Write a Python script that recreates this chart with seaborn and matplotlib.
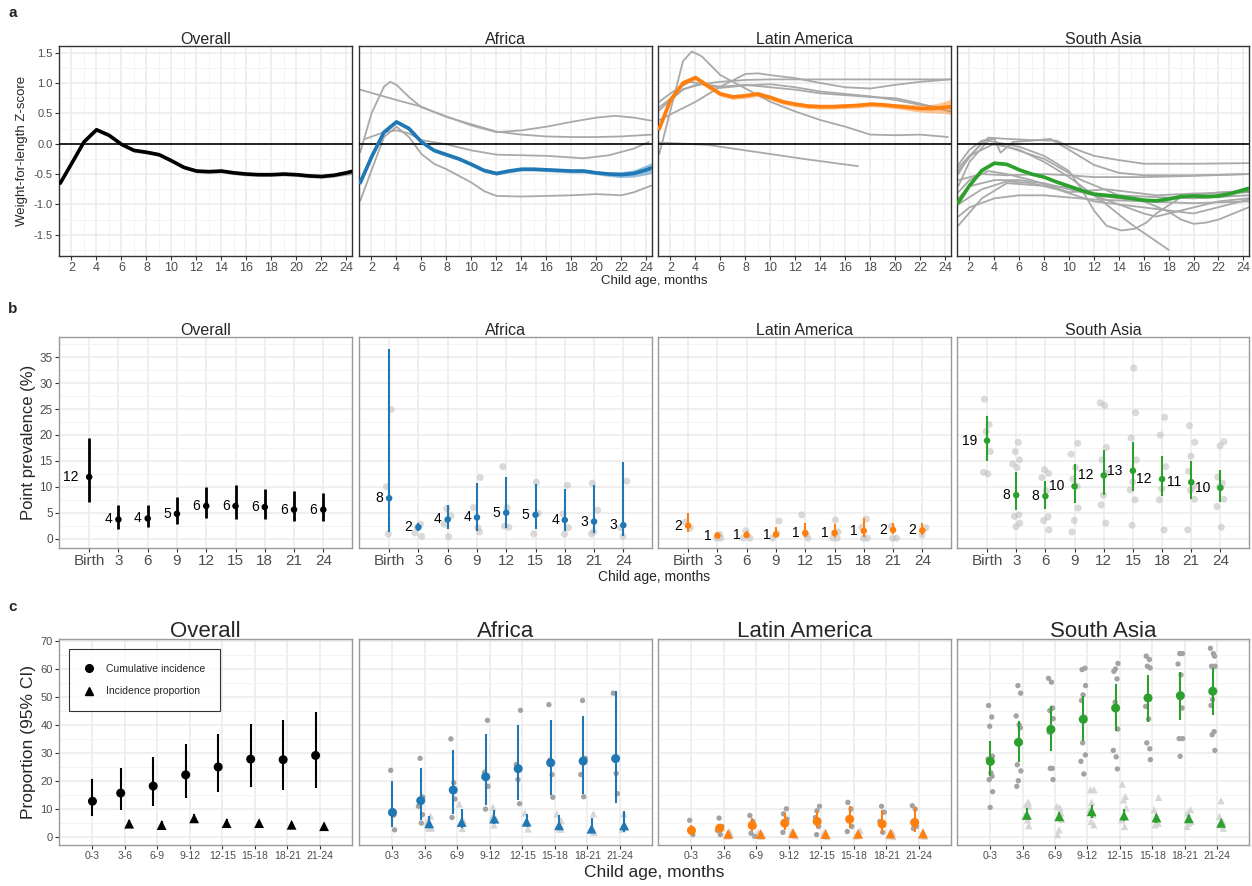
import matplotlib
matplotlib.use("Agg")
import matplotlib.pyplot as plt
import numpy as np
import pandas as pd
import seaborn as sns
from matplotlib.lines import Line2D
from matplotlib.ticker import MultipleLocator, FormatStrFormatter

# ---------------------------------------------------------------- data
REGIONS = ["Overall", "Africa", "Latin America", "South Asia"]
REGION_COLORS = ["#000000", "#1F77B4", "#FF7F0E", "#2CA02C"]

# panel a: pooled WLZ curves by age (months)
age_main = [1.1, 2, 3, 4, 5, 6, 7, 8, 9, 10, 11, 12, 13, 14, 15, 16, 17, 18,
            19, 20, 21, 22, 23, 24, 24.4]
wlz_overall = [-0.65, -0.33, 0.03, 0.23, 0.14, -0.01, -0.11, -0.14, -0.18, -0.28,
               -0.39, -0.45, -0.46, -0.45, -0.48, -0.50, -0.51, -0.51, -0.50,
               -0.51, -0.53, -0.54, -0.52, -0.48, -0.46]
wlz_africa = [-0.64, -0.22, 0.19, 0.36, 0.25, 0.03, -0.11, -0.18, -0.25, -0.34,
              -0.44, -0.49, -0.45, -0.42, -0.42, -0.43, -0.44, -0.45, -0.45,
              -0.48, -0.50, -0.51, -0.49, -0.43, -0.40]
wlz_latam = [0.25, 0.72, 1.00, 1.09, 0.95, 0.82, 0.77, 0.79, 0.82, 0.76, 0.69,
             0.65, 0.62, 0.61, 0.61, 0.62, 0.63, 0.65, 0.64, 0.62, 0.60, 0.58,
             0.58, 0.60, 0.61]
wlz_sasia = [-0.97, -0.69, -0.44, -0.32, -0.34, -0.43, -0.50, -0.55, -0.63, -0.70,
             -0.77, -0.83, -0.85, -0.87, -0.90, -0.93, -0.94, -0.91, -0.87,
             -0.86, -0.87, -0.86, -0.82, -0.76, -0.74]
# half-width of the confidence ribbon
hw_overall = [0.03] * 22 + [0.03, 0.04, 0.05]
hw_africa = [0.05, 0.04] + [0.03] * 18 + [0.04, 0.05, 0.06, 0.08, 0.09]
hw_latam = [0.06, 0.05] + [0.04] * 18 + [0.05, 0.06, 0.07, 0.10, 0.13]
hw_sasia = [0.04, 0.03] + [0.025] * 19 + [0.03, 0.03, 0.04, 0.05]

# study-level curves (ages, values)
africa_studies = [
    ([1.1, 4, 6, 8, 10, 12, 14, 16, 18, 20, 22, 24.4],
     [0.89, 0.72, 0.61, 0.44, 0.32, 0.20, 0.15, 0.12, 0.11, 0.11, 0.12, 0.15]),
    ([1.1, 2, 3, 3.5, 4, 5, 6, 8, 10, 12, 14, 16, 18, 20, 21.5, 23, 24.4],
     [-0.14, 0.50, 0.94, 1.02, 0.97, 0.77, 0.60, 0.45, 0.30, 0.19, 0.22, 0.28,
      0.36, 0.43, 0.46, 0.43, 0.38]),
    ([1.5, 3, 4, 5, 6, 8, 10, 12, 16, 19, 21, 23, 24.2],
     [0.08, 0.19, 0.22, 0.17, 0.06, -0.01, -0.11, -0.18, -0.20, -0.24, -0.19,
      -0.08, 0.03]),
    ([1.1, 2, 3, 4, 5, 6, 7, 8, 10, 11, 12, 14, 16, 18, 20, 22, 23, 24.4],
     [-0.94, -0.44, 0.11, 0.28, 0.11, -0.17, -0.33, -0.42, -0.64, -0.78, -0.86,
      -0.87, -0.86, -0.85, -0.83, -0.85, -0.80, -0.69]),
]
latam_studies = [
    ([1.1, 2, 3, 3.7, 4.5, 6, 8, 10, 12, 14, 16, 18, 20, 22, 24.2],
     [-0.17, 0.55, 1.36, 1.52, 1.44, 1.13, 0.91, 0.69, 0.53, 0.39, 0.28, 0.15,
      0.14, 0.15, 0.11]),
    ([1.1, 5, 9, 13, 17], [0.02, -0.02, -0.14, -0.26, -0.37]),
    ([1.1, 2, 3, 4, 6, 8, 10, 12, 16, 20, 24.4],
     [0.55, 0.72, 0.89, 0.97, 1.02, 1.05, 1.06, 1.06, 1.06, 1.06, 1.06]),
    ([1.1, 4, 6, 8, 9, 10, 12, 14, 16, 18, 20, 22, 24.4],
     [0.39, 0.69, 0.94, 1.15, 1.16, 1.13, 1.08, 1.00, 0.93, 0.91, 0.97, 1.02, 1.06]),
    ([1.1, 2, 3.5, 5, 6, 8, 10, 12, 14, 16, 18, 20, 22, 24.4],
     [0.69, 0.83, 1.02, 0.97, 0.94, 0.97, 0.93, 0.89, 0.83, 0.80, 0.77, 0.75,
      0.66, 0.53]),
    ([1.1, 3, 4.5, 6, 8, 10, 12, 14, 16, 18, 20, 22, 24.4],
     [0.60, 0.90, 0.98, 0.92, 0.96, 0.98, 0.93, 0.86, 0.82, 0.78, 0.72, 0.64, 0.58]),
]
sasia_studies = [
    ([1.1, 2, 3.5, 5, 7, 9, 10, 12, 14, 16, 20, 24.4],
     [-0.40, -0.20, 0.10, 0.08, 0.06, 0.05, -0.05, -0.20, -0.27, -0.33, -0.33, -0.32]),
    ([1.1, 2, 3, 4, 4.5, 5.5, 7, 8.5, 10, 12, 14, 16, 20, 24.4],
     [-0.35, -0.10, 0.05, 0.08, -0.15, 0.03, 0.05, 0.08, -0.10, -0.35, -0.48,
      -0.52, -0.52, -0.50]),
    ([1.1, 2, 3.5, 6, 8, 10, 11, 12, 13, 14.2, 15.3, 16.2, 17, 19, 22, 24.4],
     [-0.70, -0.30, 0.05, -0.05, -0.20, -0.45, -0.75, -1.10, -1.35, -1.43, -1.40,
      -1.30, -1.15, -0.88, -0.80, -0.78]),
    ([1.1, 2, 4, 6, 8, 10, 11, 13, 14.5, 15.5, 16.8, 18],
     [-0.50, -0.20, 0.00, -0.10, -0.30, -0.55, -0.70, -1.00, -1.25, -1.40, -1.58, -1.75]),
    ([1.1, 3, 5, 7, 10, 12, 14, 16, 17, 19, 22, 24.4],
     [-1.35, -0.90, -0.65, -0.68, -0.72, -0.85, -1.00, -1.15, -1.20, -1.10,
      -0.95, -0.90]),
    ([1.1, 2, 4, 6, 8, 12, 16, 20, 24.4],
     [-1.20, -1.05, -0.90, -0.85, -0.85, -0.92, -0.95, -0.98, -0.95]),
    ([1.1, 3, 5, 8, 10, 12, 16, 20, 24.4],
     [-0.60, -0.50, -0.52, -0.50, -0.52, -0.55, -0.55, -0.53, -0.50]),
    ([1.1, 2, 4, 6, 8, 10, 12, 14, 16, 18, 19, 20, 21, 22, 24.4],
     [-0.90, -0.70, -0.60, -0.60, -0.65, -0.75, -0.85, -0.90, -0.95, -1.12,
      -1.25, -1.32, -1.30, -1.25, -1.05]),
    ([1.1, 3, 5, 7, 9, 12, 16, 20, 24.4],
     [-1.00, -0.75, -0.62, -0.65, -0.75, -0.95, -1.05, -1.15, -0.92]),
    ([1.1, 2, 3.5, 5, 7, 10, 13, 15, 17, 20, 24.4],
     [-0.80, -0.60, -0.45, -0.50, -0.60, -0.80, -0.75, -0.80, -0.85, -0.82, -0.80]),
    ([1.1, 3, 5, 8, 11, 14, 17, 20, 24.4],
     [-0.45, 0.02, -0.05, -0.25, -0.60, -0.85, -0.88, -0.90, -0.85]),
]

# panel b: point prevalence (%)
prev_ages = ["Birth", "3", "6", "9", "12", "15", "18", "21", "24"]
prev_est = {
    "Overall": [11.9, 3.7, 3.9, 4.8, 6.3, 6.3, 6.1, 5.6, 5.6],
    "Africa": [7.8, 2.2, 3.7, 4.1, 5.0, 4.6, 3.6, 3.3, 2.6],
    "Latin America": [2.5, 0.6, 0.7, 0.8, 1.1, 1.1, 1.5, 1.7, 1.6],
    "South Asia": [18.9, 8.4, 8.2, 10.1, 12.2, 13.1, 11.5, 10.9, 9.8],
}
prev_lo = {
    "Overall": [7.0, 1.9, 2.3, 2.9, 3.9, 3.7, 3.7, 3.4, 3.5],
    "Africa": [1.2, 1.5, 1.8, 1.5, 2.0, 1.8, 1.5, 1.0, 0.5],
    "Latin America": [1.3, 0.2, 0.2, 0.3, 0.3, 0.3, 0.4, 0.9, 0.7],
    "South Asia": [14.9, 5.5, 5.8, 6.9, 8.5, 9.1, 8.3, 7.7, 7.1],
}
prev_hi = {
    "Overall": [19.5, 6.4, 6.4, 8.1, 10.0, 10.3, 9.6, 9.1, 8.9],
    "Africa": [36.6, 3.0, 6.4, 10.8, 11.8, 10.6, 9.6, 10.3, 14.7],
    "Latin America": [4.9, 1.2, 1.5, 2.2, 3.0, 2.9, 3.9, 3.0, 3.0],
    "South Asia": [23.7, 12.8, 11.2, 14.4, 17.1, 18.6, 16.0, 15.0, 13.2],
}
prev_labels = {
    "Overall": [12, 4, 4, 5, 6, 6, 6, 6, 6],
    "Africa": [8, 2, 4, 4, 5, 5, 4, 3, 3],
    "Latin America": [2, 1, 1, 1, 1, 1, 1, 2, 2],
    "South Asia": [19, 8, 8, 10, 12, 13, 12, 11, 10],
}
prev_study = {
    "Overall": [[] for _ in prev_ages],
    "Africa": [[10.0, 24.9, 0.9], [2.8, 2.2, 0.45, 1.1], [5.8, 4.4, 2.8, 0.4],
               [11.8, 6.0, 2.1, 1.3], [13.9, 6.0, 2.2, 2.4], [10.9, 4.9, 0.9],
               [10.3, 4.75, 2.1, 0.9], [10.7, 5.5, 1.3, 0.9], [11.1, 0.45, 2.1]],
    "Latin America": [[3.2, 2.05], [0.8, 0.1, 0.1], [1.5, 0.1, 0.1], [3.4, 0.1, 1.0],
                      [4.6, 0.8, 0.1], [3.6, 0.1, 0.1, 1.3], [3.8, 2.2, 0.1, 0.1],
                      [2.4, 0.1, 0.1], [2.1, 0.7]],
    "South Asia": [[26.9, 22.0, 20.7, 16.8, 12.8, 12.5],
                   [18.6, 16.8, 15.2, 14.4, 13.7, 4.6, 4.3, 3.0, 2.3],
                   [13.3, 12.6, 11.8, 9.2, 4.2, 3.5, 1.7],
                   [18.4, 16.3, 13.7, 10.1, 11.5, 5.9, 3.5, 1.3],
                   [26.2, 25.7, 17.6, 15.2, 12.7, 8.4, 6.5, 3.0],
                   [32.9, 24.3, 19.4, 15.2, 10.9, 9.4, 7.5, 2.6],
                   [23.4, 20.0, 13.9, 9.6, 7.5, 1.7],
                   [21.8, 18.6, 15.9, 13.0, 10.0, 9.3, 7.6, 1.7],
                   [18.7, 17.9, 11.9, 10.7, 10.0, 7.6, 6.2, 2.2]],
}

# panel c: cumulative incidence (all bins) and incidence proportion (from 3-6)
inc_bins = ["0-3", "3-6", "6-9", "9-12", "12-15", "15-18", "18-21", "21-24"]
ci_est = {
    "Overall": [12.9, 15.8, 18.3, 22.3, 25.1, 27.9, 27.7, 29.2],
    "Africa": [8.9, 13.1, 16.9, 21.6, 24.5, 26.6, 27.2, 28.1],
    "Latin America": [2.5, 3.3, 4.3, 5.1, 5.7, 6.5, 4.8, 5.35],
    "South Asia": [27.1, 33.9, 38.5, 42.1, 46.1, 49.7, 50.5, 52.1],
}
ci_lo = {
    "Overall": [7.5, 9.6, 11.3, 14.1, 16.1, 18.1, 16.9, 17.5],
    "Africa": [3.7, 6.3, 8.4, 11.5, 13.4, 15.2, 15.6, 12.2],
    "Latin America": [1.4, 2.1, 2.4, 2.6, 3.3, 3.5, 1.6, 1.8],
    "South Asia": [22.0, 26.9, 30.7, 34.5, 37.8, 41.3, 41.9, 43.6],
}
ci_hi = {
    "Overall": [20.8, 24.9, 28.7, 33.3, 37.0, 40.5, 42.0, 44.6],
    "Africa": [20.2, 24.8, 31.2, 36.7, 40.2, 42.0, 43.2, 52.1],
    "Latin America": [4.6, 4.9, 6.8, 8.8, 9.5, 11.1, 9.6, 10.8],
    "South Asia": [34.5, 41.4, 46.7, 50.3, 54.7, 58.0, 59.0, 60.5],
}
ip_est = {
    "Overall": [4.9, 4.4, 6.8, 5.1, 5.1, 4.5, 4.0],
    "Africa": [5.0, 5.5, 6.7, 5.6, 4.3, 3.1, 4.3],
    "Latin America": [1.3, 1.2, 1.5, 1.2, 1.3, 1.4, 1.4],
    "South Asia": [8.0, 7.5, 9.3, 7.8, 7.1, 6.8, 5.2],
}
ip_lo = {
    "Overall": [3.9, 3.2, 5.6, 4.0, 4.2, 3.5, 3.4],
    "Africa": [3.2, 3.3, 4.9, 3.7, 3.0, 1.5, 1.9],
    "Latin America": [0.8, 0.7, 0.9, 0.7, 0.8, 0.8, 0.8],
    "South Asia": [6.9, 6.0, 7.0, 5.8, 5.0, 5.2, 4.3],
}
ip_hi = {
    "Overall": [6.2, 5.8, 8.2, 6.6, 6.0, 5.6, 4.7],
    "Africa": [7.8, 10.2, 9.6, 8.2, 7.9, 7.0, 9.3],
    "Latin America": [1.9, 1.8, 2.2, 1.8, 1.9, 2.1, 2.1],
    "South Asia": [10.5, 9.0, 11.5, 10.3, 8.4, 7.9, 5.9],
}
ci_study = {
    "Overall": [[] for _ in inc_bins],
    "Africa": [[23.9, 8.0, 9.3, 2.7], [28.2, 14.4, 11.1, 5.1, 8.1],
               [35.1, 19.5, 13.7, 7.1], [41.7, 23.2, 18.2, 10.1],
               [45.3, 20.6, 26.0, 12.0], [47.3, 22.4, 27.6, 14.3],
               [48.8, 28.2, 22.4, 14.5], [51.4, 22.8, 15.6]],
    "Latin America": [[6.1, 1.0, 2.5], [6.9, 3.9, 2.5, 1.0], [7.8, 5.7, 3.9, 1.5, 0.4],
                      [10.2, 8.4, 6.5, 4.5, 1.8], [11.1, 9.5, 7.1, 3.9, 1.0],
                      [12.5, 10.1, 6.3, 3.9, 2.1], [11.1, 9.0, 5.7, 1.8],
                      [11.3, 10.1, 3.9, 3.2]],
    "South Asia": [[47.0, 42.9, 39.6, 28.9, 27.9, 23.0, 21.8, 20.6, 16.3, 10.7],
                   [54.1, 51.4, 43.3, 40.1, 39.1, 25.9, 23.7, 20.2, 18.2],
                   [56.7, 55.3, 46.1, 45.2, 42.3, 37.5, 37.5, 24.6, 24.6, 20.6],
                   [60.3, 59.8, 54.1, 50.8, 48.8, 42.8, 33.7, 29.4, 27.1, 22.6],
                   [62.0, 60.0, 59.2, 56.5, 48.2, 38.6, 31.0, 28.7, 24.4],
                   [64.6, 63.4, 61.0, 60.4, 46.7, 42.2, 31.6, 33.7, 27.7],
                   [65.5, 65.5, 61.8, 57.9, 46.1, 35.2, 35.2, 28.9],
                   [67.4, 65.5, 64.6, 61.0, 61.0, 49.1, 47.0, 37.7, 36.6, 31.0]],
}
ip_study = {
    "Overall": [[] for _ in inc_bins[1:]],
    "Africa": [[7.6, 3.3, 3.3, 5.5], [11.9, 3.2, 5.9], [10.8, 6.3, 4.5, 7.3],
               [8.7, 3.0, 5.1], [5.9, 8.4, 3.0, 3.0], [8.4, 2.7, 1.8], [8.4, 3.0, 3.7]],
    "Latin America": [[2.0, 0.5, 1.0], [1.8, 0.4, 0.9], [2.2, 0.6, 1.2], [1.5, 0.3, 2.0],
                      [2.4, 0.5, 1.0], [1.9, 0.6, 0.3], [2.1, 0.8, 0.4]],
    "South Asia": [[12.6, 11.7, 11.1, 7.5, 6.3, 4.2], [11.1, 10.5, 8.7, 7.5, 6.5, 2.7, 1.0],
                   [17.0, 17.0, 12.6, 9.9, 8.1, 5.7, 4.5], [19.0, 14.6, 13.4, 10.5, 6.3, 3.9],
                   [14.3, 9.9, 6.9, 5.1, 4.5], [9.9, 8.7, 5.7, 5.1, 3.9],
                   [13.1, 7.5, 5.7, 4.5, 3.3]],
}

# ---------------------------------------------------------------- layout
sns.set_theme(style="white")
plt.rcParams["font.family"] = ["Liberation Sans", "DejaVu Sans"]
plt.rcParams["axes.unicode_minus"] = False

W, H = 1252, 886
fig = plt.figure(figsize=(W / 100, H / 100), dpi=100)

COLS = [(59, 352), (359, 652), (658, 951), (957, 1249)]
ROWS = {"a": (46, 256), "b": (337, 548), "c": (639, 845)}
JITTER = [-0.09, 0.07, -0.03, 0.11, -0.12, 0.03, 0.09, -0.06, 0.12, -0.01]
GREY_LINE = "#A9A9A9"


def make_ax(col, row):
    x0, x1 = COLS[col]
    y0, y1 = ROWS[row]
    return fig.add_axes([x0 / W, 1 - y1 / H, (x1 - x0) / W, (y1 - y0) / H])


def style(ax, first, border, xsize, ysize):
    ax.set_facecolor("white")
    for s in ax.spines.values():
        s.set_color(border)
        s.set_linewidth(1.0)
        s.set_visible(True)
    ax.grid(True, which="major", color="#EBEBEB", lw=1.1)
    ax.grid(True, which="minor", color="#F3F3F3", lw=0.6)
    ax.set_axisbelow(True)
    ax.tick_params(which="major", direction="out", length=3, width=0.8,
                   color="#333333", labelcolor="#4D4D4D", pad=1.5,
                   bottom=True, left=first, labelleft=first)
    ax.tick_params(axis="x", labelsize=xsize)
    ax.tick_params(axis="y", labelsize=ysize)
    ax.tick_params(which="minor", length=0)
    ax.set_xlabel("")
    ax.set_ylabel("")


def curves_frame(studies):
    rows = []
    for k, (ages, vals) in enumerate(studies):
        for a, v in zip(ages, vals):
            rows.append((k, a, v))
    return pd.DataFrame(rows, columns=["study", "age", "wlz"])


# ---------------------------------------------------------------- panel a
main_curves = [wlz_overall, wlz_africa, wlz_latam, wlz_sasia]
ribbons = [hw_overall, hw_africa, hw_latam, hw_sasia]
studies = [[], africa_studies, latam_studies, sasia_studies]
for i, region in enumerate(REGIONS):
    ax = make_ax(i, "a")
    col = REGION_COLORS[i]
    if studies[i]:
        sns.lineplot(data=curves_frame(studies[i]), x="age", y="wlz", units="study",
                     estimator=None, color=GREY_LINE, lw=1.3, ax=ax, legend=False,
                     zorder=2)
    ax.axhline(0, color="black", lw=1.2, zorder=3)
    est = np.array(main_curves[i])
    hw = np.array(ribbons[i])
    ax.fill_between(age_main, est - hw, est + hw,
                    color=col if i else "#555555", alpha=0.45, lw=0, zorder=4)
    sns.lineplot(x=age_main, y=main_curves[i], color=col, lw=2.6, ax=ax,
                 errorbar=None, zorder=5)
    ax.set_xlim(1.0, 24.45)
    ax.set_ylim(-1.85, 1.61)
    ax.xaxis.set_major_locator(MultipleLocator(2))
    ax.xaxis.set_minor_locator(MultipleLocator(1))
    ax.yaxis.set_major_locator(MultipleLocator(0.5))
    ax.yaxis.set_minor_locator(MultipleLocator(0.25))
    ax.yaxis.set_major_formatter(FormatStrFormatter("%.1f"))
    style(ax, i == 0, "#333333", 9, 8)
    ax.set_title(region, fontsize=11.5, pad=1.5)

fig.text(22 / W, 1 - 151 / H, "Weight-for-length Z-score", rotation=90,
         ha="center", va="center", fontsize=9.5)
fig.text(654 / W, 1 - 281 / H, "Child age, months", ha="center", va="center",
         fontsize=9.5)

# ---------------------------------------------------------------- panel b
xb = np.arange(len(prev_ages))
for i, region in enumerate(REGIONS):
    ax = make_ax(i, "b")
    col = REGION_COLORS[i]
    sx, sy = [], []
    for k, vals in enumerate(prev_study[region]):
        for j, v in enumerate(vals):
            sx.append(xb[k] + JITTER[(j + k) % len(JITTER)])
            sy.append(v)
    if sx:
        sns.scatterplot(x=sx, y=sy, color="#BDBDBD", alpha=0.55, s=26,
                        edgecolor="none", ax=ax, legend=False, zorder=2)
    ax.vlines(xb, prev_lo[region], prev_hi[region], color=col,
              lw=2.0 if i == 0 else 1.5, zorder=3)
    sns.scatterplot(x=xb, y=prev_est[region], color=col, s=22, edgecolor="none",
                    ax=ax, legend=False, zorder=4)
    for k, lab in enumerate(prev_labels[region]):
        txt = str(lab)
        ax.annotate(txt, (xb[k], prev_est[region][k]),
                    xytext=(-3.2 * len(txt) - 1, 0), textcoords="offset points",
                    ha="right", va="center", fontsize=10, color="black", zorder=5)
    ax.set_xlim(-1.03, 8.98)
    ax.set_ylim(-1.8, 38.9)
    ax.set_xticks(xb)
    ax.set_xticklabels(prev_ages)
    ax.yaxis.set_major_locator(MultipleLocator(5))
    ax.yaxis.set_minor_locator(MultipleLocator(2.5))
    ax.xaxis.set_minor_locator(plt.NullLocator())
    style(ax, i == 0, "#9A9A9A", 11, 8.5)
    ax.set_title(region, fontsize=11.5, pad=1.5)

fig.text(29 / W, 1 - 442 / H, "Point prevalence (%)", rotation=90,
         ha="center", va="center", fontsize=12)
fig.text(654 / W, 1 - 577 / H, "Child age, months", ha="center", va="center",
         fontsize=10)

# ---------------------------------------------------------------- panel c
xc = np.arange(len(inc_bins))
DODGE = 0.13
for i, region in enumerate(REGIONS):
    ax = make_ax(i, "c")
    col = REGION_COLORS[i]
    xci = np.where(xc == 0, 0.0, xc - DODGE)
    xip = xc[1:] + DODGE

    gx, gy = [], []
    for k, vals in enumerate(ci_study[region]):
        for j, v in enumerate(vals):
            gx.append(xci[k] + 0.6 * JITTER[(j + 2 * k) % len(JITTER)])
            gy.append(v)
    tx, ty = [], []
    for k, vals in enumerate(ip_study[region]):
        for j, v in enumerate(vals):
            tx.append(xip[k] + 0.6 * JITTER[(j + 3 * k + 1) % len(JITTER)])
            ty.append(v)
    if ty:
        sns.scatterplot(x=tx, y=ty, color="#D6D6D6", marker="^", s=28,
                        edgecolor="none", ax=ax, legend=False, zorder=2)
    if gy:
        sns.scatterplot(x=gx, y=gy, color="#A3A3A3", s=15, edgecolor="none",
                        ax=ax, legend=False, zorder=2)

    ax.vlines(xci, ci_lo[region], ci_hi[region], color=col, lw=1.5, zorder=3)
    ax.vlines(xip, ip_lo[region], ip_hi[region], color=col, lw=1.5, zorder=3)
    sns.scatterplot(x=xci, y=ci_est[region], color=col, s=42, edgecolor="none",
                    ax=ax, legend=False, zorder=4)
    sns.scatterplot(x=xip, y=ip_est[region], color=col, marker="^", s=50,
                    edgecolor="none", ax=ax, legend=False, zorder=4)

    ax.set_xlim(-1.03, 7.99)
    ax.set_ylim(-2.7, 70.7)
    ax.set_xticks(xc)
    ax.set_xticklabels(inc_bins)
    ax.yaxis.set_major_locator(MultipleLocator(10))
    ax.yaxis.set_minor_locator(MultipleLocator(5))
    ax.xaxis.set_minor_locator(plt.NullLocator())
    style(ax, i == 0, "#9A9A9A", 7.5, 8)
    ax.set_title(region, fontsize=16, pad=1.5)

    if i == 0:
        handles = [
            Line2D([], [], color="black", marker="o", ls="none", markersize=5.5),
            Line2D([], [], color="black", marker="^", ls="none", markersize=6),
        ]
        leg = ax.legend(handles, ["Cumulative incidence", "Incidence proportion"],
                        loc="upper left", bbox_to_anchor=(0.034, 0.951),
                        frameon=True, fancybox=False, fontsize=7.5,
                        borderpad=1.4, labelspacing=1.2, handlelength=1.0,
                        handletextpad=1.2, borderaxespad=0)
        leg.get_frame().set_edgecolor("black")
        leg.get_frame().set_linewidth(0.8)

fig.text(29 / W, 1 - 742 / H, "Proportion (95% CI)", rotation=90,
         ha="center", va="center", fontsize=12.5)
fig.text(654 / W, 1 - 873 / H, "Child age, months", ha="center", va="center",
         fontsize=12.5)

# panel letters
for letter, y in [("a", 13), ("b", 309), ("c", 607)]:
    fig.text(13 / W, 1 - y / H, letter, ha="center", va="center",
             fontsize=11, fontweight="bold")

fig.savefig("out.png", dpi=100)
plt.close(fig)
